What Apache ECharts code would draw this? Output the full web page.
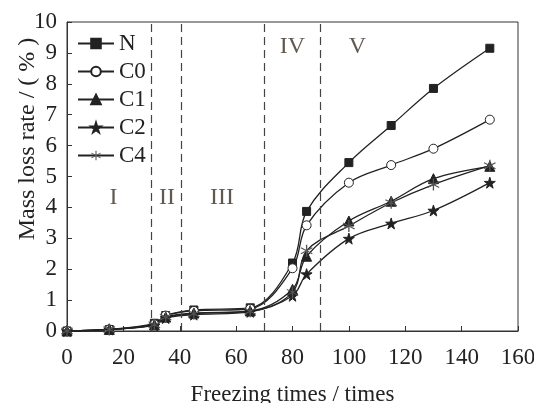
<!DOCTYPE html>
<html><head><meta charset="utf-8">
<script src="https://cdn.jsdelivr.net/npm/echarts@6/dist/echarts.min.js"></script>
<style>html,body{margin:0;padding:0;background:#fff}#c{width:534px;height:403px}</style>
</head><body><div id="c"></div>
<script>
var xTimes = [0, 15, 31, 35, 45, 65, 80, 85, 100, 115, 130, 150];
var seriesN  = [0, 0.05, 0.25, 0.50, 0.68, 0.75, 2.20, 3.87, 5.45, 6.65, 7.85, 9.15];
var seriesC0 = [0, 0.05, 0.22, 0.50, 0.65, 0.72, 2.03, 3.42, 4.80, 5.37, 5.90, 6.84];
var seriesC1 = [0, 0.05, 0.20, 0.45, 0.58, 0.65, 1.35, 2.42, 3.56, 4.20, 4.93, 5.33];
var seriesC2 = [0, 0.05, 0.18, 0.42, 0.53, 0.62, 1.14, 1.84, 2.99, 3.48, 3.90, 4.80];
var seriesC4 = [0, 0.05, 0.20, 0.45, 0.56, 0.64, 1.25, 2.60, 3.40, 4.15, 4.74, 5.35];
var stageBounds = [30, 40.5, 70, 90];
var stageNames = ['I', 'II', 'III', 'IV', 'V'];
var stageX = [16.5, 35.5, 55, 80, 103];
var stageY = [4.3, 4.3, 4.3, 9.2, 9.2];
var xTicks = [0, 20, 40, 60, 80, 100, 120, 140, 160];
var yTicks = [0, 1, 2, 3, 4, 5, 6, 7, 8, 9, 10];

var FONT = '"Liberation Serif", "DejaVu Serif", serif';
var INK = '#222';
var star = 'path://M50,0 L61,35 L98,35 L68,57 L79,91 L50,70 L21,91 L32,57 L2,35 L39,35 Z';
var asterisk = 'path://M45,0 L55,0 L55,100 L45,100 Z M9,21 L95,71 L91,79 L5,29 Z M5,71 L91,21 L95,29 L9,79 Z';

function pairs(ys) { return xTimes.map(function (x, i) { return [x, ys[i]]; }); }
function mk(name, ys, symbol, size, fill) {
  return {
    name: name, type: 'line', data: pairs(ys), smooth: 0.35,
    symbol: symbol, symbolSize: size, showSymbol: true,
    lineStyle: { color: INK, width: 1.3 },
    itemStyle: { color: fill, borderColor: INK, borderWidth: 1 },
    z: 3
  };
}
var series = [
  mk('N', seriesN, 'rect', 8, INK),
  mk('C0', seriesC0, 'circle', 9, '#fff'),
  mk('C1', seriesC1, 'triangle', 10, INK),
  mk('C2', seriesC2, star, 11, INK),
  mk('C4', seriesC4, asterisk, 12, '#555')
];
series[4].itemStyle.borderWidth = 0;
series[0].markLine = {
  silent: true, symbol: 'none', label: { show: false },
  lineStyle: { color: '#444', type: [8, 5], width: 1.2 },
  data: stageBounds.map(function (v) { return { xAxis: v }; })
};
series.push({
  name: 'stages', type: 'scatter', symbolSize: 0, silent: true,
  data: stageNames.map(function (n, i) { return { value: [stageX[i], stageY[i]], name: n }; }),
  label: { show: true, position: 'inside', formatter: '{b}', fontFamily: FONT, fontSize: 24, color: '#3a2f24' }
});

var chart = echarts.init(document.getElementById('c'), null, { renderer: 'canvas' });
chart.setOption({
  animation: false,
  backgroundColor: '#fff',
  grid: { left: 67, right: 16, top: 22, bottom: 72, outerBoundsMode: 'none', containLabel: false,
    show: true, borderColor: '#333', borderWidth: 1, backgroundColor: 'transparent' },
  legend: {
    data: ['N', 'C0', 'C1', 'C2', 'C4'], orient: 'vertical', left: 72, top: 27,
    itemWidth: 36, itemHeight: 12, itemGap: 5,
    textStyle: { fontFamily: FONT, fontSize: 23, color: INK, lineHeight: 23 }
  },
  xAxis: {
    type: 'value', min: 0, max: 160, interval: 20,
    name: 'Freezing times / times', nameLocation: 'middle', nameGap: 52,
    nameTextStyle: { fontFamily: FONT, fontSize: 23, color: INK },
    axisLine: { show: true, lineStyle: { color: '#333' } },
    axisTick: { show: true, inside: true, length: 5, lineStyle: { color: '#333' } },
    axisLabel: { fontFamily: FONT, fontSize: 23, color: INK, margin: 15,
      formatter: function (v) { return xTicks.indexOf(v) >= 0 ? String(v) : ''; } },
    splitLine: { show: false }
  },
  yAxis: {
    type: 'value', min: 0, max: 10, interval: 1,
    name: 'Mass loss rate / ( % )', nameLocation: 'middle', nameGap: 27, nameMoveOverlap: false,
    nameTextStyle: { fontFamily: FONT, fontSize: 24, color: INK, padding: [0, 0, 0, 75] },
    axisLine: { show: true, lineStyle: { color: '#333' } },
    axisTick: { show: true, inside: true, length: 5, lineStyle: { color: '#333' } },
    axisLabel: { fontFamily: FONT, fontSize: 23, color: INK, margin: 10,
      formatter: function (v) { return yTicks.indexOf(v) >= 0 ? String(v) : ''; } },
    splitLine: { show: false }
  },
  series: series
});
</script></body></html>
